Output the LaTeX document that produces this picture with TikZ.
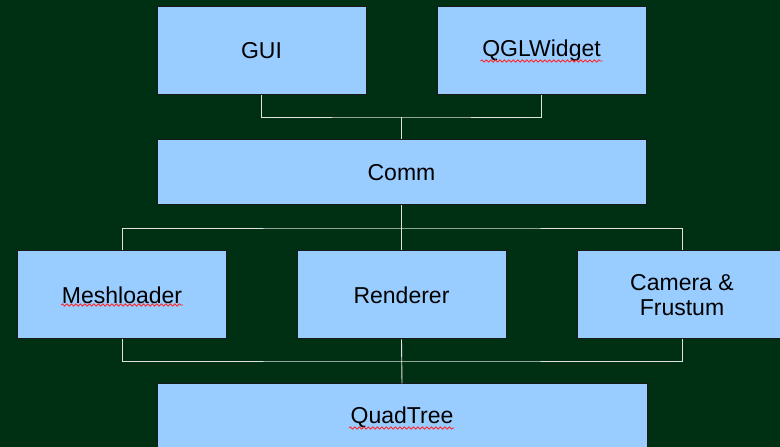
\documentclass[tikz,border=0pt]{standalone}
\usepackage{fontspec}
\setmainfont{Liberation Sans}
\usetikzlibrary{decorations.pathmorphing}
\definecolor{bggreen}{RGB}{0,48,20}
\definecolor{boxblue}{RGB}{153,204,255}
\definecolor{wirecol}{RGB}{225,225,225}
\tikzset{
  block/.style={draw=black!90, line width=1pt, fill=boxblue, rectangle,
    inner sep=0pt, align=center, font=\fontsize{23}{25}\selectfont,
    minimum width=209pt, minimum height=88pt},
  wire/.style={draw=wirecol, line width=0.9pt},
  spell/.style={draw=red!85!white, line width=0.8pt,
    decorate, decoration={snake, amplitude=1.1pt, segment length=4.5pt}}
}
\begin{document}
\begin{tikzpicture}[x=1pt,y=1pt]
  \fill[bggreen] (0,0) rectangle (780,447);
  \useasboundingbox (0,0) rectangle (780,447);
  \clip (0,0) rectangle (780,447);

  % top row
  \node[block] (gui) at (261.5,396) {GUI};
  \node[block] (qgl) at (541.5,396) {QGLWidget};
  % communication layer
  \node[block, minimum width=489pt, minimum height=65pt] (comm) at (401.5,274.5) {Comm};
  % middle row
  \node[block] (mesh) at (122,152) {Meshloader};
  \node[block] (rend) at (401.5,152) {Renderer};
  \node[block, minimum width=210pt] (cam) at (682,152) {Camera \&\\Frustum};
  % bottom
  \node[block, minimum width=490pt, minimum height=66pt] (quad) at (402,30) {QuadTree};

  % bus junctions
  \coordinate (topbus) at (401.5,330);
  \coordinate (midbus) at (401.5,219);
  \coordinate (lowbus) at (401.5,86);

  \draw[wire] (gui.south) |- (topbus) -| (qgl.south);
  \draw[wire] (topbus) -- (comm.north);
  \draw[wire] (comm.south) -- (rend.north);
  \draw[wire] (mesh.north) |- (midbus) -| (cam.north);
  \draw[wire] (mesh.south) |- (lowbus) -| (cam.south);
  \draw[wire] (rend.south) -- (quad.north);

  % spell-check underlines
  \draw[spell] ([xshift=-61pt,yshift=-10pt]qgl.center) -- ++(122pt,0);
  \draw[spell] ([xshift=-61pt,yshift=-10pt]mesh.center) -- ++(122pt,0);
  \draw[spell] ([xshift=-53pt,yshift=-11pt]quad.center) -- ++(105pt,0);
\end{tikzpicture}
\end{document}
